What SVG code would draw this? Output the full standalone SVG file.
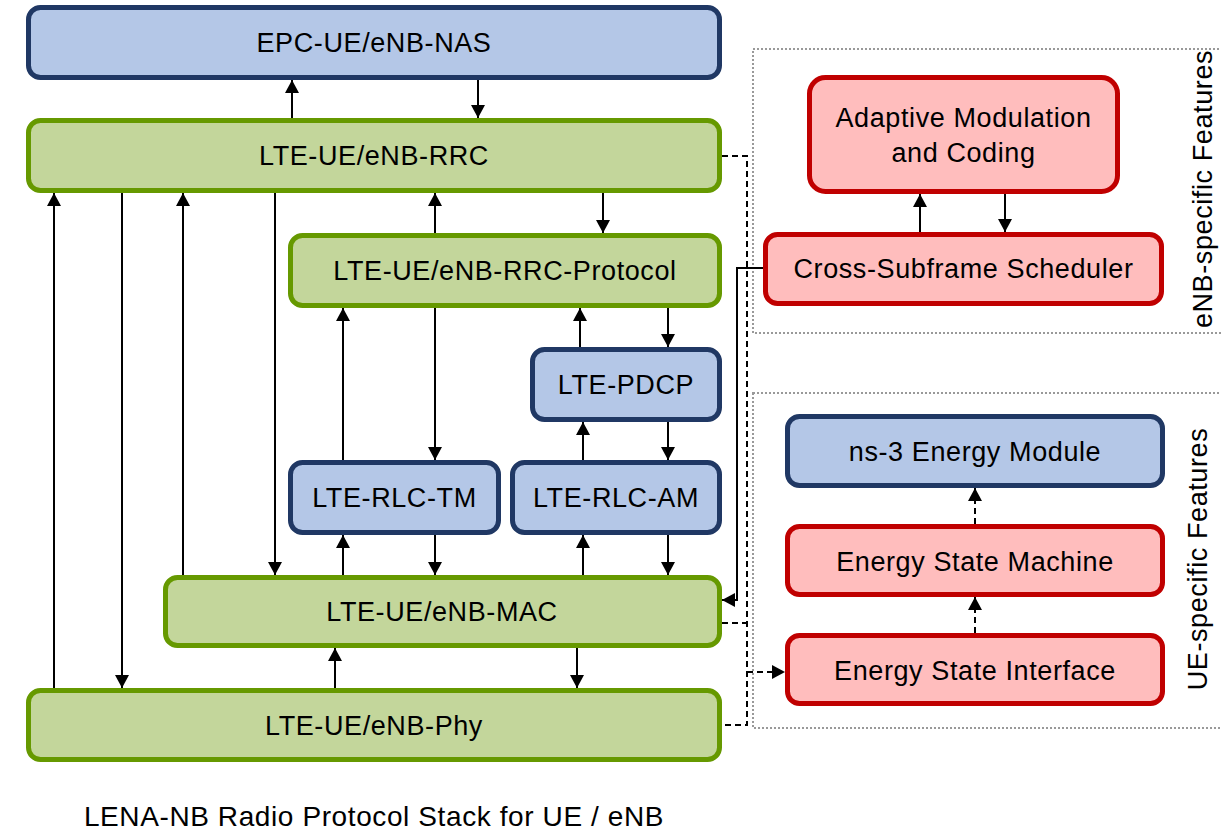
<svg xmlns="http://www.w3.org/2000/svg" width="1221" height="832" viewBox="0 0 1221 832">
<style>
.box{stroke-width:5}
.blue{fill:#b4c7e7;stroke:#203864}
.green{fill:#c3d69b;stroke:#669900}
.red{fill:#ffbdbd;stroke:#c00000}
.lbl{font-family:"Liberation Sans",Arial,sans-serif;font-size:27px;letter-spacing:0.6px;fill:#000;text-anchor:middle}
.cap{font-family:"Liberation Sans",Arial,sans-serif;font-size:28px;letter-spacing:0.6px;fill:#000;text-anchor:middle}
.frame{fill:none;stroke:#999;stroke-width:2;stroke-dasharray:2 2}
.ar{fill:none;stroke:#000;stroke-width:2;marker-end:url(#ah)}
.dash{fill:none;stroke:#000;stroke-width:2;stroke-dasharray:6 4}
</style>
<defs>
<marker id="ah" markerUnits="userSpaceOnUse" markerWidth="13" markerHeight="14" refX="13" refY="7" orient="auto">
<path d="M0,0 L13,7 L0,14 z" fill="#000"/>
</marker>
</defs>
<rect width="1221" height="832" fill="#fff"/>
<g id="frames">
<rect class="frame" x="753" y="49" width="480" height="284"/>
<rect class="frame" x="753" y="393" width="480" height="335"/>
<text class="lbl" transform="translate(1212,189) rotate(-90)">eNB-specific Features</text>
<text class="lbl" transform="translate(1207,559) rotate(-90)">UE-specific Features</text>
</g>
<g id="connectors">
<line class="ar" x1="292" y1="118" x2="292" y2="80"/>
<line class="ar" x1="478" y1="80" x2="478" y2="118"/>
<line class="ar" x1="54" y1="688" x2="54" y2="193"/>
<line class="ar" x1="122" y1="193" x2="122" y2="688"/>
<line class="ar" x1="183" y1="575" x2="183" y2="193"/>
<line class="ar" x1="275" y1="193" x2="275" y2="575"/>
<line class="ar" x1="435" y1="233" x2="435" y2="193"/>
<line class="ar" x1="603" y1="193" x2="603" y2="233"/>
<line class="ar" x1="343" y1="460" x2="343" y2="308"/>
<line class="ar" x1="435" y1="308" x2="435" y2="460"/>
<line class="ar" x1="580" y1="347" x2="580" y2="308"/>
<line class="ar" x1="668" y1="308" x2="668" y2="347"/>
<line class="ar" x1="583" y1="460" x2="583" y2="422"/>
<line class="ar" x1="668" y1="422" x2="668" y2="460"/>
<line class="ar" x1="343" y1="575" x2="343" y2="535"/>
<line class="ar" x1="435" y1="535" x2="435" y2="575"/>
<line class="ar" x1="583" y1="575" x2="583" y2="535"/>
<line class="ar" x1="668" y1="535" x2="668" y2="575"/>
<line class="ar" x1="335" y1="688" x2="335" y2="648"/>
<line class="ar" x1="577" y1="648" x2="577" y2="688"/>
<line class="ar" x1="920" y1="232" x2="920" y2="194"/>
<line class="ar" x1="1005" y1="194" x2="1005" y2="232"/>
<line class="dash" x1="975" y1="633" x2="975" y2="597" style="marker-end:url(#ah)"/>
<line class="dash" x1="975" y1="524" x2="975" y2="488" style="marker-end:url(#ah)"/>
<path class="dash" d="M722,156 H747 V725 H722 M722,623 H747"/>
<path class="dash" d="M747,672 H785" style="marker-end:url(#ah)"/>
<path class="ar" d="M763,268 H737 V600 H722"/>
</g>
<g id="nas"><rect class="box blue" x="28.5" y="7.5" width="691" height="70" rx="12"/><text class="lbl" x="374" y="52">EPC-UE/eNB-NAS</text></g>
<g id="rrc"><rect class="box green" x="28.5" y="120.5" width="691" height="70" rx="12"/><text class="lbl" x="374" y="165">LTE-UE/eNB-RRC</text></g>
<g id="rrcp"><rect class="box green" x="290.5" y="235.5" width="429" height="70" rx="12"/><text class="lbl" x="505" y="280">LTE-UE/eNB-RRC-Protocol</text></g>
<g id="pdcp"><rect class="box blue" x="532.5" y="349.5" width="187" height="70" rx="12"/><text class="lbl" x="626" y="394">LTE-PDCP</text></g>
<g id="rlctm"><rect class="box blue" x="290.5" y="462.5" width="208" height="70" rx="12"/><text class="lbl" x="394.5" y="507">LTE-RLC-TM</text></g>
<g id="rlcam"><rect class="box blue" x="512.5" y="462.5" width="207" height="70" rx="12"/><text class="lbl" x="616" y="507">LTE-RLC-AM</text></g>
<g id="mac"><rect class="box green" x="165.5" y="577.5" width="554" height="68" rx="12"/><text class="lbl" x="442" y="621">LTE-UE/eNB-MAC</text></g>
<g id="phy"><rect class="box green" x="28.5" y="690.5" width="691" height="69" rx="12"/><text class="lbl" x="374" y="735">LTE-UE/eNB-Phy</text></g>
<g id="amc"><rect class="box red" x="809.5" y="77.5" width="308" height="114" rx="16"/><text class="lbl" x="963.5" y="127">Adaptive Modulation</text><text class="lbl" x="963.5" y="162">and Coding</text></g>
<g id="css"><rect class="box red" x="765.5" y="234.5" width="396" height="69" rx="12"/><text class="lbl" x="963.5" y="278">Cross-Subframe Scheduler</text></g>
<g id="energy"><rect class="box blue" x="787.5" y="416.5" width="375" height="69" rx="12"/><text class="lbl" x="975" y="461">ns-3 Energy Module</text></g>
<g id="esm"><rect class="box red" x="787.5" y="526.5" width="375" height="68" rx="12"/><text class="lbl" x="975" y="571">Energy State Machine</text></g>
<g id="esi"><rect class="box red" x="787.5" y="635.5" width="375" height="68" rx="12"/><text class="lbl" x="975" y="680">Energy State Interface</text></g>
<text class="cap" x="374" y="826">LENA-NB Radio Protocol Stack for UE / eNB</text>
</svg>
